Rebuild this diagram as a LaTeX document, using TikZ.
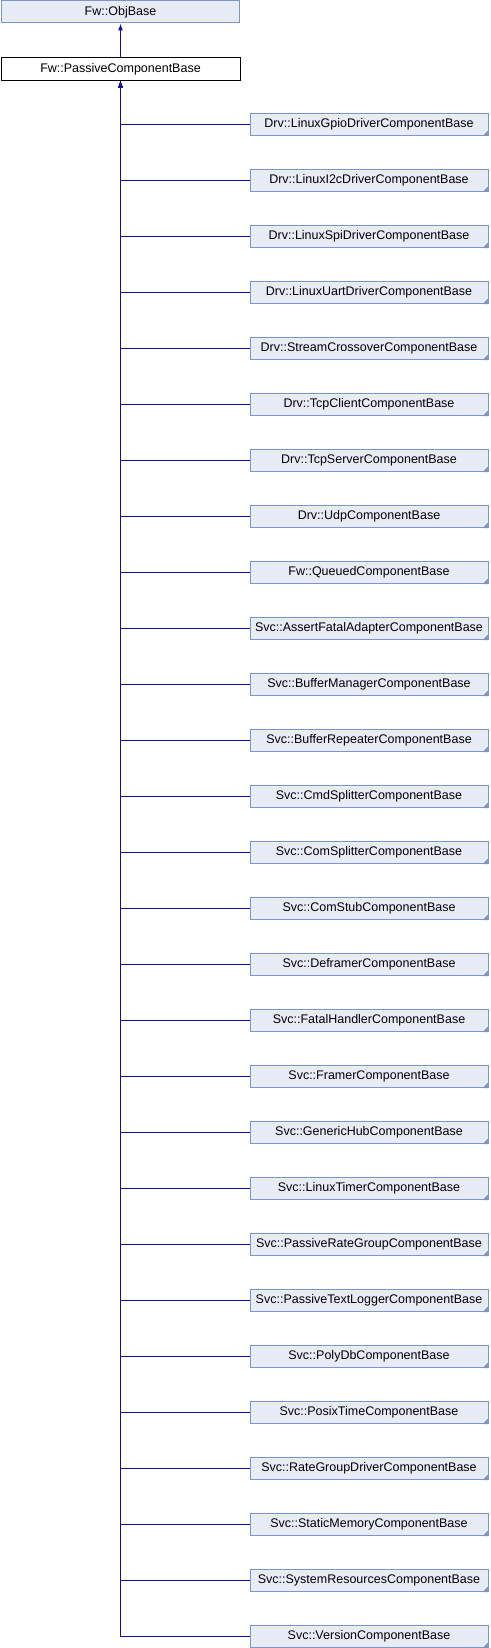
\documentclass[tikz,border=0pt]{standalone}
\usepackage{fontspec}
\setmainfont{Liberation Sans}
\usetikzlibrary{arrows.meta}
\definecolor{boxline}{HTML}{7C95CA}
\definecolor{boxfill}{HTML}{E8ECF6}
\definecolor{edgeblue}{HTML}{10109C}
\tikzset{
  basebox/.style={draw, line width=1pt, inner sep=0pt, minimum height=23pt,
    minimum width=239pt, font=\fontsize{12.5}{15}\selectfont},
  classbox/.style={basebox, draw=boxline, fill=boxfill, minimum height=22pt,
    minimum width=238pt},
  inherit/.style={edgeblue, line width=1pt, {Latex[length=7pt,width=5pt]}-}
}
\begin{document}
\begin{tikzpicture}[x=1pt,y=-1pt]
\useasboundingbox (0,0) rectangle (490,1648);

\node[classbox] (obj) at (120.5,12) {Fw::ObjBase};
\node[basebox] (pcb) at (120.5,69) {Fw::PassiveComponentBase};
\draw[inherit] (obj.south) -- (pcb.north);

\foreach \cname [count=\i] in {Drv::LinuxGpioDriverComponentBase,
  Drv::LinuxI2cDriverComponentBase, Drv::LinuxSpiDriverComponentBase,
  Drv::LinuxUartDriverComponentBase, Drv::StreamCrossoverComponentBase,
  Drv::TcpClientComponentBase, Drv::TcpServerComponentBase,
  Drv::UdpComponentBase, Fw::QueuedComponentBase,
  Svc::AssertFatalAdapterComponentBase, Svc::BufferManagerComponentBase,
  Svc::BufferRepeaterComponentBase, Svc::CmdSplitterComponentBase,
  Svc::ComSplitterComponentBase, Svc::ComStubComponentBase,
  Svc::DeframerComponentBase, Svc::FatalHandlerComponentBase,
  Svc::FramerComponentBase, Svc::GenericHubComponentBase,
  Svc::LinuxTimerComponentBase, Svc::PassiveRateGroupComponentBase,
  Svc::PassiveTextLoggerComponentBase, Svc::PolyDbComponentBase,
  Svc::PosixTimeComponentBase, Svc::RateGroupDriverComponentBase,
  Svc::StaticMemoryComponentBase, Svc::SystemResourcesComponentBase,
  Svc::VersionComponentBase}
{
  \node[classbox] (c\i) at (369,{124.5+56*(\i-1)}) {\cname};
  % folded corner
  \fill[boxline] (c\i.south east) -- ++(-6,0) -- ++(6,-6) -- cycle;
  \draw[inherit] (pcb.south) |- (c\i.west);
}

\end{tikzpicture}
\end{document}
